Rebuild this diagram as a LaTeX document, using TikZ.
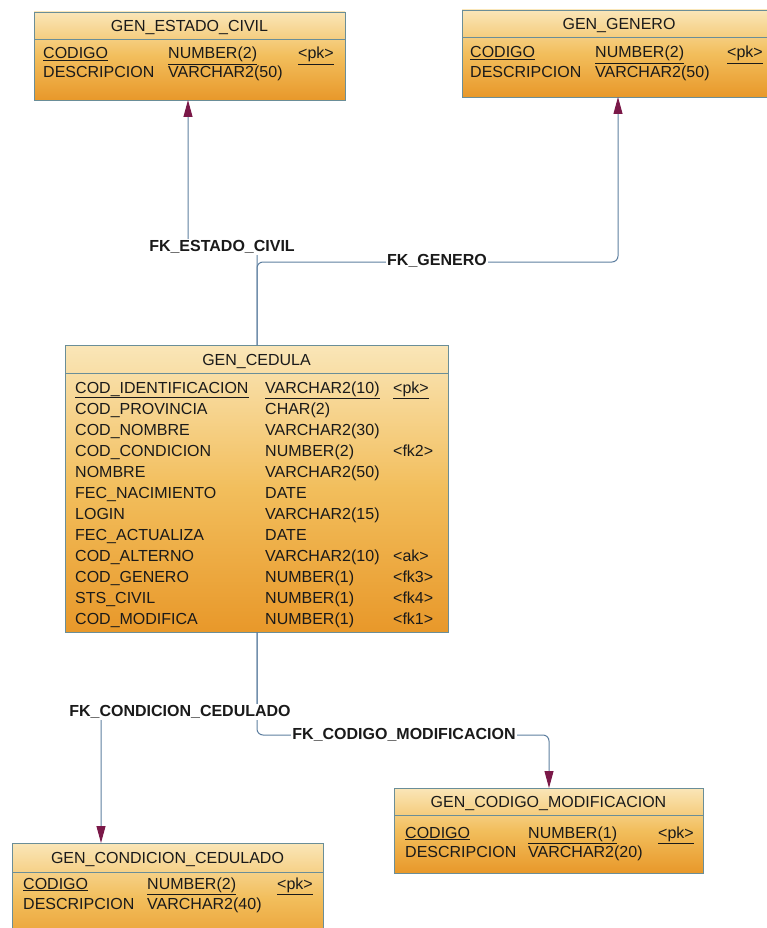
\documentclass[tikz,border=0pt]{standalone}
\usepackage{fontspec}
\setmainfont{Liberation Sans}
\usetikzlibrary{arrows.meta}
\definecolor{linec}{HTML}{5E7FA0}
\definecolor{arrc}{HTML}{7A1848}
\definecolor{boxline}{HTML}{6A8E98}
\definecolor{boxtop}{HTML}{FAE6B8}
\definecolor{boxmid}{HTML}{F2BE5C}
\definecolor{boxbot}{HTML}{E8982A}
\definecolor{txt}{HTML}{1A1A1A}
\begin{document}
\begin{tikzpicture}[x=1pt,y=-1pt,
  tbl/.style={draw=boxline, line width=0.8pt, top color=boxtop, bottom color=boxbot, middle color=boxmid, anchor=north west, inner sep=0pt, outer sep=0pt},
  hdr/.style={draw=boxline, line width=0.8pt},
  ttl/.style={font=\fontsize{16}{18}\selectfont, text=txt, inner sep=0pt, anchor=base},
  cell/.style={font=\fontsize{16}{18}\selectfont, text=txt, inner sep=0pt, anchor=base west},
  fklabel/.style={font=\bfseries\fontsize{16}{18}\selectfont, text=txt, fill=white, inner sep=1.5pt},
  conn/.style={draw=linec, line width=1pt, rounded corners=6pt},
  fkarrow/.style={conn, -{Triangle[length=17pt,width=9pt,color=arrc]}},
]
\useasboundingbox (0,0) rectangle (767,928);

% ---------- GEN_ESTADO_CIVIL ----------
\node[tbl, minimum width=311pt, minimum height=88pt] (ec) at (34,12) {};
\draw[hdr] (34,39) -- (345,39);
\node[ttl] (ect) at (189.5,31.5) {GEN\_ESTADO\_CIVIL};
\node[cell] (ec1a) at (43,59) {\underline{CODIGO}};
\node[cell] (ec1b) at (168,59) {\underline{NUMBER(2)}};
\node[cell] (ec1c) at (298,59) {\underline{\textless pk\textgreater}};
\node[cell] (ec2a) at (43,78) {DESCRIPCION};
\node[cell] (ec2b) at (168,78) {VARCHAR2(50)};

% ---------- GEN_GENERO ----------
\node[tbl, minimum width=314pt, minimum height=87pt] (gen) at (462,10) {};
\draw[hdr] (462,37) -- (776,37);
\node[ttl] (gent) at (619,29.5) {GEN\_GENERO};
\node[cell] (gen1a) at (470,58) {\underline{CODIGO}};
\node[cell] (gen1b) at (595,58) {\underline{NUMBER(2)}};
\node[cell] (gen1c) at (727,58) {\underline{\textless pk\textgreater}};
\node[cell] (gen2a) at (470,78) {DESCRIPCION};
\node[cell] (gen2b) at (595,78) {VARCHAR2(50)};

% ---------- GEN_CEDULA ----------
\node[tbl, minimum width=383pt, minimum height=287pt] (ced) at (65,345) {};
\draw[hdr] (65,373) -- (448,373);
\node[ttl] (cedt) at (256.5,365) {GEN\_CEDULA};
\node[cell] (ced1a) at (75,393) {\underline{COD\_IDENTIFICACION}};
\node[cell] (ced1b) at (265,393) {\underline{VARCHAR2(10)}};
\node[cell] (ced1c) at (393,393) {\underline{\textless pk\textgreater}};
\foreach \n/\t/\k [count=\i from 2] in {
  COD\_PROVINCIA/CHAR(2)/,
  COD\_NOMBRE/VARCHAR2(30)/,
  COD\_CONDICION/NUMBER(2)/\textless fk2\textgreater,
  NOMBRE/VARCHAR2(50)/,
  FEC\_NACIMIENTO/DATE/,
  LOGIN/VARCHAR2(15)/,
  FEC\_ACTUALIZA/DATE/,
  COD\_ALTERNO/VARCHAR2(10)/\textless ak\textgreater,
  COD\_GENERO/NUMBER(1)/\textless fk3\textgreater,
  STS\_CIVIL/NUMBER(1)/\textless fk4\textgreater,
  COD\_MODIFICA/NUMBER(1)/\textless fk1\textgreater}{
  \node[cell] (ced\i a) at (75,{393+21*(\i-1)}) {\n};
  \node[cell] (ced\i b) at (265,{393+21*(\i-1)}) {\t};
  \node[cell] (ced\i c) at (393,{393+21*(\i-1)}) {\k};
}

% ---------- GEN_CODIGO_MODIFICACION ----------
\node[tbl, minimum width=309pt, minimum height=85pt] (mod) at (394,788) {};
\draw[hdr] (394,815) -- (703,815);
\node[ttl] (modt) at (548.5,807) {GEN\_CODIGO\_MODIFICACION};
\node[cell] (mod1a) at (405,838) {\underline{CODIGO}};
\node[cell] (mod1b) at (528,838) {\underline{NUMBER(1)}};
\node[cell] (mod1c) at (658,838) {\underline{\textless pk\textgreater}};
\node[cell] (mod2a) at (405,857) {DESCRIPCION};
\node[cell] (mod2b) at (528,857) {VARCHAR2(20)};

% ---------- GEN_CONDICION_CEDULADO ----------
\node[tbl, minimum width=311pt, minimum height=110pt] (cc) at (12,843) {};
\draw[hdr] (12,872) -- (323,872);
\node[ttl] (cct) at (167.5,863) {GEN\_CONDICION\_CEDULADO};
\node[cell] (cc1a) at (23,889) {\underline{CODIGO}};
\node[cell] (cc1b) at (147,889) {\underline{NUMBER(2)}};
\node[cell] (cc1c) at (277,889) {\underline{\textless pk\textgreater}};
\node[cell] (cc2a) at (23,909) {DESCRIPCION};
\node[cell] (cc2b) at (147,909) {VARCHAR2(40)};

% ---------- connectors ----------
\coordinate (cedtop) at (257,345);
\coordinate (cedbot) at (257,632);
\coordinate (ecin) at (188,100);
\coordinate (genin) at (618,97);
\coordinate (modin) at (549,788);
\coordinate (ccin) at (101,843);

\draw[fkarrow] (cedtop) -- (257,247) -- (188,247) -- (ecin);
\draw[fkarrow] (cedtop) -- (257,262) -- (618,262) -- (genin);
\draw[fkarrow] (cedbot) -- (257,712) -- (101,712) -- (ccin);
\draw[fkarrow] (cedbot) -- (257,735) -- (549,735) -- (modin);

\node[fklabel] (lec) at (222,247) {FK\_ESTADO\_CIVIL};
\node[fklabel] (lgen) at (437,261) {FK\_GENERO};
\node[fklabel] (lcc) at (180,712) {FK\_CONDICION\_CEDULADO};
\node[fklabel] (lmod) at (404,735) {FK\_CODIGO\_MODIFICACION};
\end{tikzpicture}
\end{document}
